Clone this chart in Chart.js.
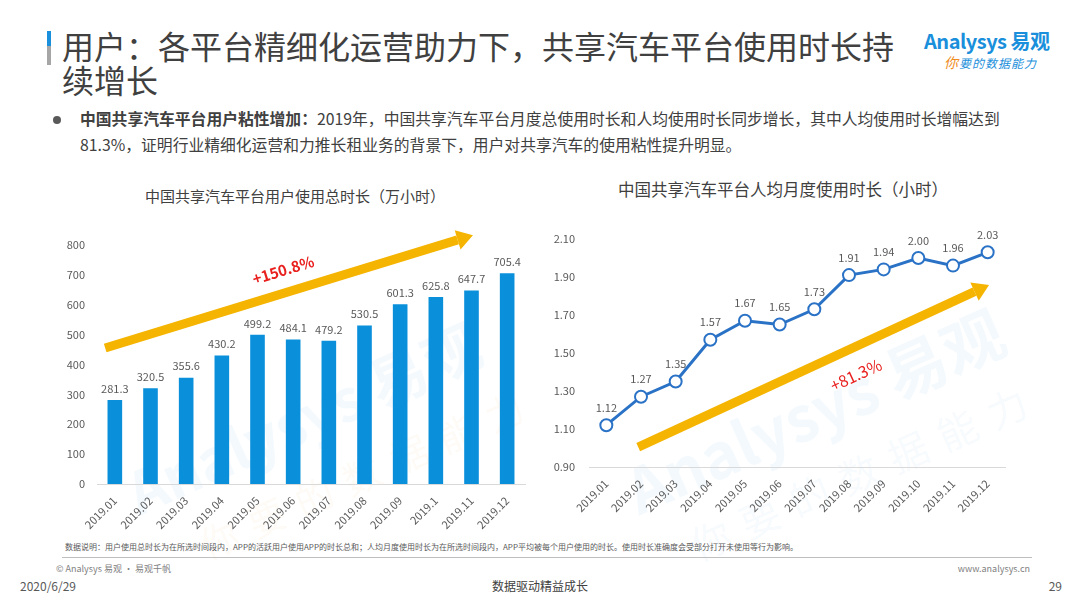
<!DOCTYPE html>
<html lang="zh-CN">
<head>
<meta charset="utf-8">
<title>共享汽车平台使用时长</title>
<script src="https://cdn.jsdelivr.net/npm/chart.js@4.4.1/dist/chart.umd.min.js"></script>
<style>
  html, body { margin: 0; padding: 0; background: #fff; }
  body { width: 1080px; height: 608px; position: relative; overflow: hidden;
         font-family: "Noto Sans CJK SC", "Noto Sans", sans-serif; color: #404040; }
  .abs { position: absolute; }
  #accent { left: 47px; top: 31px; width: 4px; height: 34px;
            background: linear-gradient(#1a8fdb 0 45%, #a6a6a6 45% 100%); }
  #title { left: 62px; top: 28px; font-size: 32px; line-height: 34px; color: #404040; width: 850px; }
  #logo1 { left: 924px; top: 26px; font-size: 20px; color: #1a8fdb; font-weight: bold; letter-spacing: -0.5px; }
  #logo2 { left: 944px; top: 52px; font-size: 12px; color: #1a8fdb; font-style: italic; letter-spacing: 1px; }
  #logo2 span { color: #f08c1e; font-size: 14px; }
  #dot { left: 53px; top: 116px; width: 8px; height: 8px; border-radius: 50%; background: #595959; }
  #bullet { left: 80px; top: 106px; width: 960px; font-size: 15.8px; line-height: 26px; color: #404040; white-space: nowrap; }
  #bullet b { font-weight: bold; }
  .ctitle { font-size: 15px; color: #404040; white-space: nowrap; transform: translateX(-50%); }
  .wrap { position: absolute; }
  .mark { position: absolute; white-space: nowrap; transform-origin: left top; pointer-events: none; }
  #note { left: 65px; top: 541px; font-size: 8px; color: #595959; white-space: nowrap; }
  #rule { left: 62px; top: 557px; width: 970px; height: 1px; background: #bfbfbf; }
  #copy { left: 56px; top: 562px; font-size: 9px; color: #7f7f7f; }
  #site { right: 50px; top: 562px; font-size: 9px; color: #7f7f7f; }
  #date { left: 20px; top: 577px; font-size: 12px; color: #595959; }
  #slogan { left: 540px; top: 577px; font-size: 12px; color: #404040; transform: translateX(-50%); }
  #page { right: 18px; top: 577px; font-size: 12px; color: #595959; }
</style>
</head>
<body>
<div id="accent" class="abs"></div>
<div id="title" class="abs">用户：各平台精细化运营助力下，共享汽车平台使用时长持<br>续增长</div>
<div id="logo1" class="abs">Analysys 易观</div>
<div id="logo2" class="abs"><span>你</span>要的数据能力</div>
<div id="dot" class="abs"></div>
<div id="bullet" class="abs"><b>中国共享汽车平台用户粘性增加：</b>2019年，中国共享汽车平台月度总使用时长和人均使用时长同步增长，其中人均使用时长增幅达到<br>81.3%，证明行业精细化运营和力推长租业务的背景下，用户对共享汽车的使用粘性提升明显。</div>

<div class="abs ctitle" style="left:295px; top:185px;">中国共享汽车平台用户使用总时长（万小时）</div>
<div class="abs ctitle" style="left:783px; top:177px; font-size:16.5px;">中国共享汽车平台人均月度使用时长（小时）</div>

<div class="mark" style="left:112px; top:455px; transform:rotate(-24deg); font-size:58px; font-weight:bold; color:rgba(26,143,219,0.05);">Analysys 易观</div>
<div class="mark" style="left:190px; top:520px; transform:rotate(-24deg); font-size:38px; color:rgba(240,140,30,0.05); letter-spacing:14px;">你要的数据能力</div>
<div class="mark" style="left:610px; top:450px; transform:rotate(-24deg); font-size:62px; font-weight:bold; color:rgba(26,143,219,0.05);">Analysys 易观</div>
<div class="mark" style="left:680px; top:520px; transform:rotate(-24deg); font-size:40px; color:rgba(26,143,219,0.05); letter-spacing:14px;">你要的数据能力</div>

<div class="wrap" style="left:40px; top:230px; width:495px; height:310px;"><canvas id="totalChart"></canvas></div>
<div class="wrap" style="left:540px; top:225px; width:480px; height:305px;"><canvas id="avgChart"></canvas></div>

<div id="note" class="abs">数据说明：用户使用总时长为在所选时间段内，APP的活跃用户使用APP的时长总和；人均月度使用时长为在所选时间段内，APP平均被每个用户使用的时长。使用时长准确度会受部分打开未使用等行为影响。</div>
<div id="rule" class="abs"></div>
<div id="copy" class="abs">© Analysys 易观 · 易观千帆</div>
<div id="site" class="abs">www.analysys.cn</div>
<div id="date" class="abs">2020/6/29</div>
<div id="slogan" class="abs">数据驱动精益成长</div>
<div id="page" class="abs">29</div>

<script>
// 月份标签（左图原文中10月写作 2019.1）
const totalMonths = ['2019.01', '2019.02', '2019.03', '2019.04', '2019.05', '2019.06',
                     '2019.07', '2019.08', '2019.09', '2019.1', '2019.11', '2019.12'];
const avgMonths = ['2019.01', '2019.02', '2019.03', '2019.04', '2019.05', '2019.06',
                   '2019.07', '2019.08', '2019.09', '2019.10', '2019.11', '2019.12'];

// 使用总时长（万小时）
const totalHours = [281.3, 320.5, 355.6, 430.2, 499.2, 484.1, 479.2, 530.5, 601.3, 625.8, 647.7, 705.4];
// 人均月度使用时长（小时）
const avgHours = [1.12, 1.27, 1.35, 1.57, 1.67, 1.65, 1.73, 1.91, 1.94, 2.00, 1.96, 2.03];

// 趋势箭头与增幅：[类别索引, 数值]
const totalArrow = [[-0.27, 455], [10.04, 833]];
const totalGrowth = { text: '+150.8%', at: [4.72, 716] };
const avgArrow = [[0.92, 1.005], [11.04, 1.858]];
const avgGrowth = { text: '+81.3%', at: [7.2, 1.384] };

const TEXT_GREY = '#595959';
const AXIS_GREY = '#d9d9d9';
const FONT = '"Noto Sans CJK SC", "Noto Sans", sans-serif';

// 数据标签：写在每个柱子/点的上方
const valueLabels = {
    id: 'valueLabels',
    afterDatasetsDraw(chart, args, opts) {
        const { ctx } = chart;
        const meta = chart.getDatasetMeta(0);
        const values = chart.data.datasets[0].data;
        ctx.save();
        ctx.font = `11px ${FONT}`;
        ctx.fillStyle = TEXT_GREY;
        ctx.textAlign = 'center';
        ctx.textBaseline = 'bottom';
        meta.data.forEach((el, i) => {
            ctx.fillText(opts.format(values[i]), el.x, el.y - opts.offset);
        });
        ctx.restore();
    }
};

// 黄色趋势箭头 + 红色增幅文字
const trendArrow = {
    id: 'trendArrow',
    afterDatasetsDraw(chart, args, opts) {
        const { ctx, scales: { x, y } } = chart;
        const px = p => [x.getPixelForValue(p[0]), y.getPixelForValue(p[1])];
        const [x0, y0] = px(opts.from[0]);
        const [x1, y1] = px(opts.from[1]);
        const ang = Math.atan2(y1 - y0, x1 - x0);
        const headLen = 16, headHalf = 10, thick = 9;
        const bx = x1 - Math.cos(ang) * headLen;
        const by = y1 - Math.sin(ang) * headLen;

        ctx.save();
        ctx.strokeStyle = '#f5b400';
        ctx.fillStyle = '#f5b400';
        ctx.lineWidth = thick;
        ctx.beginPath();
        ctx.moveTo(x0, y0);
        ctx.lineTo(bx, by);
        ctx.stroke();
        ctx.beginPath();
        ctx.moveTo(x1, y1);
        ctx.lineTo(bx - Math.sin(ang) * headHalf, by + Math.cos(ang) * headHalf);
        ctx.lineTo(bx + Math.sin(ang) * headHalf, by - Math.cos(ang) * headHalf);
        ctx.closePath();
        ctx.fill();

        const [tx, ty] = px(opts.label.at);
        ctx.translate(tx, ty);
        ctx.rotate(ang);
        ctx.font = `${opts.weight} ${opts.size}px ${FONT}`;
        ctx.fillStyle = '#e8211f';
        ctx.textAlign = 'center';
        ctx.textBaseline = 'middle';
        ctx.fillText(opts.label.text, 0, 0);
        ctx.restore();
    }
};

function axes(yOpts, yWidth, xHeight) {
    return {
        x: {
            offset: true,
            grid: { display: false },
            border: { display: true, color: AXIS_GREY },
            ticks: { color: TEXT_GREY, font: { size: 11, family: FONT }, minRotation: 45, maxRotation: 45, padding: 2 },
            afterFit(scale) { scale.height = xHeight; }
        },
        y: Object.assign({
            grid: { display: false },
            border: { display: false },
            afterFit(scale) { scale.width = yWidth; }
        }, yOpts)
    };
}

new Chart(document.getElementById('totalChart'), {
    type: 'bar',
    data: {
        labels: totalMonths,
        datasets: [{ data: totalHours, backgroundColor: '#0a8fdb', barPercentage: 0.82, categoryPercentage: 0.5 }]
    },
    options: {
        responsive: true,
        maintainAspectRatio: false,
        animation: false,
        layout: { padding: { top: 15, right: 10 } },
        plugins: {
            legend: { display: false },
            tooltip: { enabled: false },
            valueLabels: { offset: 6, format: v => v.toFixed(1) },
            trendArrow: { from: totalArrow, label: totalGrowth, size: 15, weight: 'bold' }
        },
        scales: axes({
            min: 0, max: 800,
            ticks: { stepSize: 100, color: TEXT_GREY, font: { size: 11, family: FONT }, padding: 4 }
        }, 57, 56)
    },
    plugins: [valueLabels, trendArrow]
});

new Chart(document.getElementById('avgChart'), {
    type: 'line',
    data: {
        labels: avgMonths,
        datasets: [{
            data: avgHours,
            borderColor: '#2a72c6',
            borderWidth: 3,
            tension: 0,
            pointRadius: 6,
            pointBorderWidth: 2,
            pointBackgroundColor: '#ffffff',
            pointBorderColor: '#2a72c6'
        }]
    },
    options: {
        responsive: true,
        maintainAspectRatio: false,
        animation: false,
        layout: { padding: { top: 14, right: 15 } },
        plugins: {
            legend: { display: false },
            tooltip: { enabled: false },
            valueLabels: { offset: 12, format: v => v.toFixed(2) },
            trendArrow: { from: avgArrow, label: avgGrowth, size: 16, weight: 'normal' }
        },
        scales: axes({
            min: 0.9, max: 2.1,
            ticks: { stepSize: 0.2, color: TEXT_GREY, font: { size: 11, family: FONT }, padding: 6,
                     callback: v => Number(v).toFixed(2) }
        }, 49, 63)
    },
    plugins: [valueLabels, trendArrow]
});
</script>
</body>
</html>
